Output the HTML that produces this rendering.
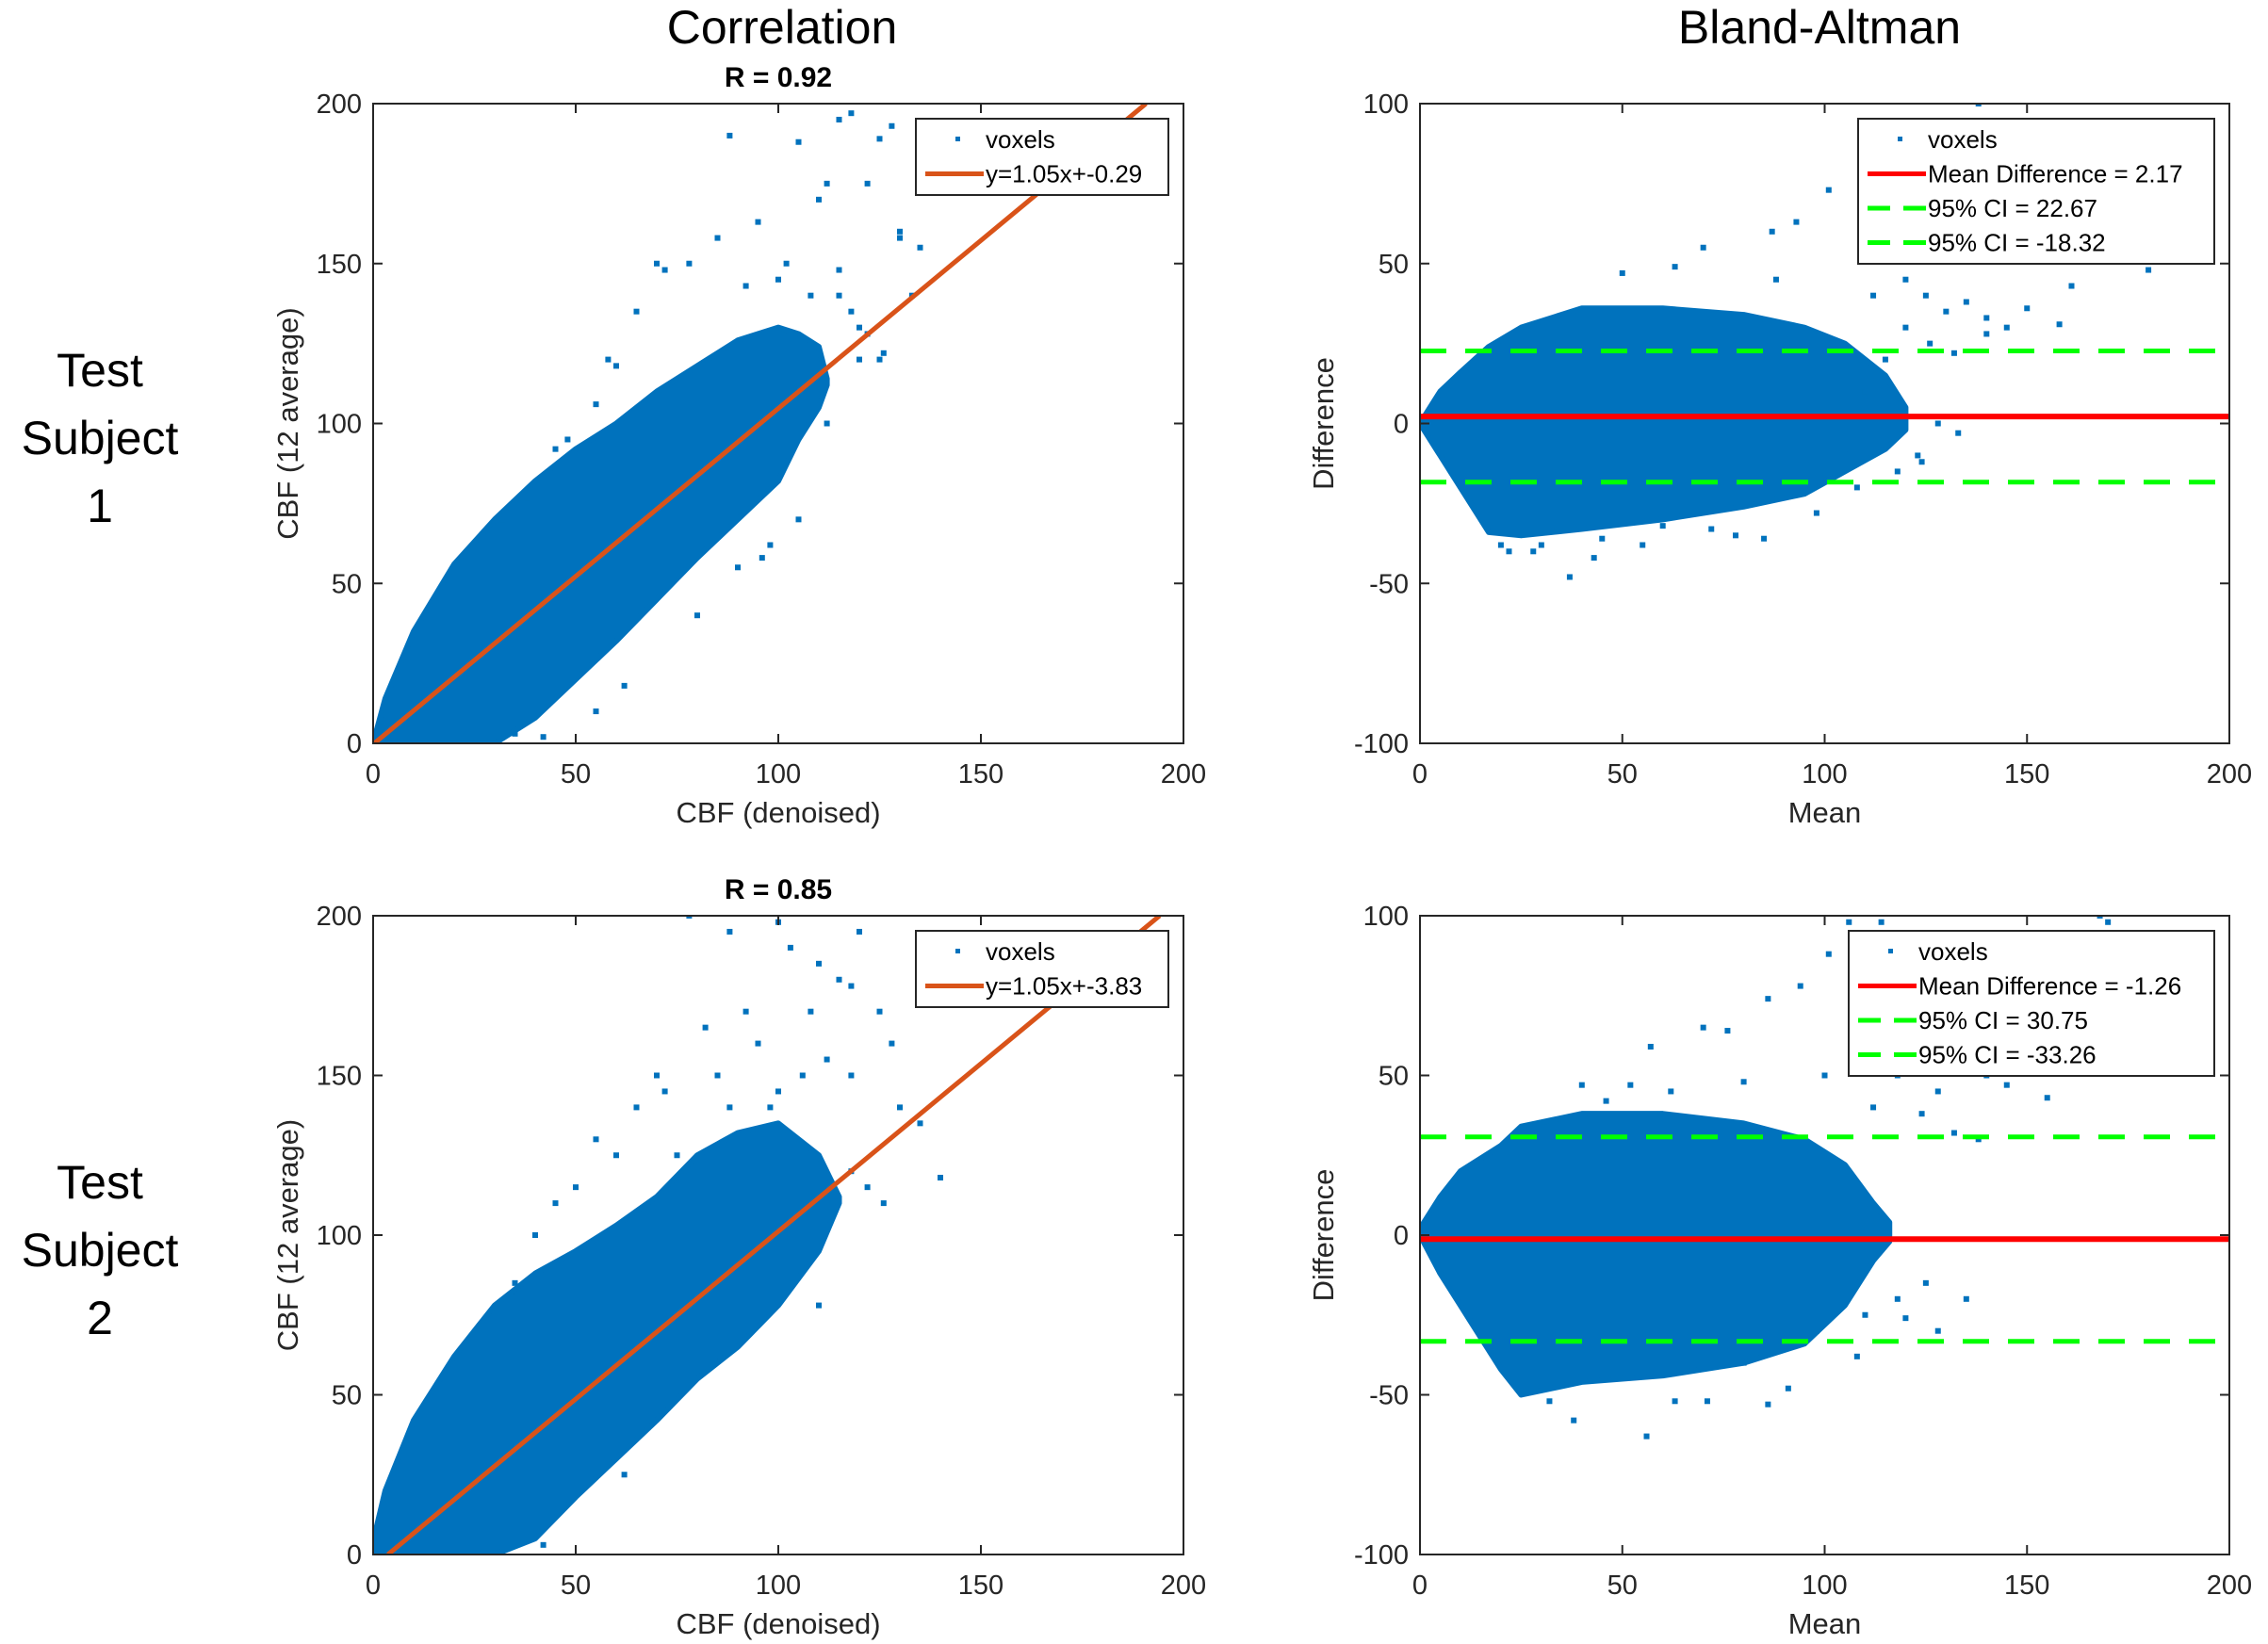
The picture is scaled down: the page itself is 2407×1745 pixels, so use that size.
<!DOCTYPE html>
<html><head><meta charset="utf-8"><style>
html,body{margin:0;padding:0;background:#fff;}
svg{display:block;font-family:"Liberation Sans",sans-serif;}
</style></head><body>
<svg id="fig" width="2407" height="1745" viewBox="0 0 2407 1745" xmlns="http://www.w3.org/2000/svg">
<text x="830" y="46" font-size="50" text-anchor="middle">Correlation</text>
<text x="1931" y="46" font-size="50" text-anchor="middle">Bland-Altman</text>
<g font-size="50" text-anchor="middle">
<text x="106" y="410">Test</text><text x="106" y="482">Subject</text><text x="106" y="554">1</text></g>
<g font-size="50" text-anchor="middle">
<text x="106" y="1272">Test</text><text x="106" y="1344">Subject</text><text x="106" y="1416">2</text></g>
</svg>
<script>
// ---- Data: correlation subject 1 ----
const c1EnvX  = [0,3,10,20,30,40,50,60,70,80,90,100,105,110,112];
const c1EnvLo = [0,0,0,0,0,8,20,32,45,58,70,82,95,105,112];
const c1EnvHi = [0,14,35,56,70,82,92,100,110,118,126,130,128,124,114];
const c1OutX = [88,105,115,118,125,128,130,122,110,112,95,100,115,130,135,120,108,102,78,70,65,60,55,45,38,32,120,125,133,92,85,72,58,48,40,118,122,126,115,112,105,98,35,28,42,55,62,80,90,96];
const c1OutY = [190,188,195,197,189,193,160,175,170,175,163,145,148,158,155,130,140,150,150,150,135,118,106,92,75,70,120,120,140,143,158,148,120,95,60,135,128,122,140,100,70,62,3,18,2,10,18,40,55,58];
const c1Slope = 1.05, c1Intercept = -0.29;
// ---- Data: correlation subject 2 ----
const c2EnvX  = [0,3,10,20,30,40,50,60,70,80,90,100,110,115];
const c2EnvLo = [0,0,0,0,0,5,18,30,42,55,65,78,95,110];
const c2EnvHi = [4,20,42,62,78,88,95,103,112,125,132,135,125,112];
const c2OutX = [78,88,100,103,110,115,118,120,125,128,95,85,72,65,60,50,45,40,35,108,118,130,135,140,92,82,70,55,48,112,100,106,98,88,75,122,126,118,62,42,30,110];
const c2OutY = [200,195,198,190,185,180,178,195,170,160,160,150,145,140,125,115,110,100,85,170,150,140,135,118,170,165,150,130,90,155,145,150,140,140,125,115,110,120,25,3,-0,78];
const c2Slope = 1.05, c2Intercept = -3.83;
// ---- Data: Bland-Altman subject 1 ----
const b1EnvX  = [0,5,10,17,25,40,60,80,95,105,115,120];
const b1EnvLo = [0,-10,-20,-34,-35,-33,-30,-26,-22,-15,-8,-2];
const b1EnvHi = [0,10,16,24,30,36,36,34,30,25,15,5];
const b1OutX = [138,101,93,87,70,63,50,37,43,28,22,120,125,130,135,140,145,150,158,161,180,115,110,105,118,123,128,133,85,78,60,112,120,126,132,20,30,45,55,72,98,108,124,140,88];
const b1OutY = [100,73,63,60,55,49,47,-48,-42,-40,-40,45,40,35,38,33,30,36,31,43,48,20,10,-8,-15,-10,0,-3,-36,-35,-32,40,30,25,22,-38,-38,-36,-38,-33,-28,-20,-12,28,45];
const b1Mean = 2.17, b1CIHi = 22.67, b1CILo = -18.32;
// ---- Data: Bland-Altman subject 2 ----
const b2EnvX  = [0,5,10,20,25,40,60,80,95,105,112,116];
const b2EnvLo = [0,-12,-22,-42,-50,-46,-44,-40,-34,-22,-8,-2];
const b2EnvHi = [2,12,20,28,34,38,38,35,30,22,10,4];
const b2OutX = [106,114,168,170,101,94,86,76,70,57,52,40,32,38,56,63,71,86,91,118,128,140,145,155,110,120,128,135,98,80,112,124,132,138,46,62,80,100,108,118,125];
const b2OutY = [98,98,100,98,88,78,74,64,65,59,47,47,-52,-58,-63,-52,-52,-53,-48,50,45,50,47,43,-25,-26,-30,-20,-30,-40,40,38,32,30,42,45,48,50,-38,-20,-15];
const b2Mean = -1.26, b2CIHi = 30.75, b2CILo = -33.26;

const NS = 'http://www.w3.org/2000/svg';
const svg = document.getElementById('fig');
function mk(tag, attrs, parent){ const e=document.createElementNS(NS,tag); for(const k in attrs) e.setAttribute(k,attrs[k]); (parent||svg).appendChild(e); return e; }

function panel(p){
  const L=p.left, R=p.right, T=p.top, B=p.bottom;
  const sx = v => L + (v - p.xmin)/(p.xmax-p.xmin)*(R-L);
  const sy = v => B - (v - p.ymin)/(p.ymax-p.ymin)*(B-T);
  const g = mk('g',{});
  
  
  const defs = mk('defs',{},g);
  const cp = mk('clipPath',{id:p.name+'-clip'},defs);
  mk('rect',{x:L,y:T,width:R-L,height:B-T},cp);
  const plot = mk('g',{'clip-path':'url(#'+p.name+'-clip)'},g);
  let pts=[];
  p.envX.forEach((x,i)=>pts.push(sx(x)+','+sy(p.envHi[i])));
  for(let i=p.envX.length-1;i>=0;i--) pts.push(sx(p.envX[i])+','+sy(p.envLo[i]));
  const env = mk('polygon',{points:pts.join(' '),fill:'#0072BD','stroke':'#0072BD','stroke-width':6,'stroke-linejoin':'round'},plot);
  
  
  p.outX.forEach((x,i)=>{
    const r = mk('rect',{x:sx(x)-3,y:sy(p.outY[i])-3,width:6,height:6,fill:'#0072BD'},plot);
    
    
  });
  if(p.slope!==undefined){
    const x0 = Math.max(0,-p.intercept/p.slope), x1=(200-p.intercept)/p.slope;
    const ln = mk('line',{x1:sx(x0),y1:sy(p.slope*x0+p.intercept),x2:sx(x1),y2:sy(p.slope*x1+p.intercept),stroke:'#D95319','stroke-width':5},plot);
    
    
  } else {
    const m = mk('line',{x1:L,x2:R,y1:sy(p.mean),y2:sy(p.mean),stroke:'#FF0000','stroke-width':6},plot);
    
    
    [p.ciHi,p.ciLo].forEach(v=>{
      const c = mk('line',{x1:L,x2:R,y1:sy(v),y2:sy(v),stroke:'#00FF00','stroke-width':5,'stroke-dasharray':'28 20'},plot);
      
      
    });
  }
  mk('rect',{x:L,y:T,width:R-L,height:B-T,fill:'none',stroke:'#262626','stroke-width':2},g);
  p.xticks.forEach(v=>{
    mk('line',{x1:sx(v),x2:sx(v),y1:B,y2:B-10,stroke:'#262626','stroke-width':2},g);
    mk('line',{x1:sx(v),x2:sx(v),y1:T,y2:T+10,stroke:'#262626','stroke-width':2},g);
    const t = mk('text',{x:sx(v),y:B+42,'font-size':29,'text-anchor':'middle',fill:'#262626'},g);
    t.textContent=v;
    
    
  });
  p.yticks.forEach(v=>{
    mk('line',{x1:L,x2:L+10,y1:sy(v),y2:sy(v),stroke:'#262626','stroke-width':2},g);
    mk('line',{x1:R,x2:R-10,y1:sy(v),y2:sy(v),stroke:'#262626','stroke-width':2},g);
    const t = mk('text',{x:L-12,y:sy(v)+10,'font-size':29,'text-anchor':'end',fill:'#262626'},g);
    t.textContent=v;
    
    
  });
  const xl = mk('text',{x:(L+R)/2,y:B+84,'font-size':31,'text-anchor':'middle',fill:'#262626'},g);
  xl.textContent=p.xlabel;
  
  
  const yx=p.ylabelX, yy=(T+B)/2;
  const yl = mk('text',{x:yx,y:yy,'font-size':31,'text-anchor':'middle',fill:'#262626',transform:'rotate(-90 '+yx+' '+yy+')'},g);
  yl.textContent=p.ylabel;
  
  
  if(p.title){
    const tt = mk('text',{x:(L+R)/2,y:T-18,'font-size':30,'font-weight':'bold','text-anchor':'middle',fill:'#000'},g);
    tt.textContent=p.title;
    
    
  }
  const lg = mk('g',{},g);
  
  
  const lx=p.legX, ly=T+16, rowH=36.5;
  mk('rect',{x:lx,y:ly,width:p.legW,height:p.legItems.length*rowH+8,fill:'#fff',stroke:'#262626','stroke-width':2},lg);
  p.legItems.forEach((it,i)=>{
    const cy = ly+22+i*rowH;
    if(it.type==='pt') mk('rect',{x:lx+42,y:cy-3,width:5,height:5,fill:'#0072BD'},lg);
    else mk('line',{x1:lx+10,x2:lx+72,y1:cy,y2:cy,stroke:it.color,'stroke-width':5,'stroke-dasharray':it.dash||'none'},lg);
    const t = mk('text',{x:lx+74,y:cy+9,'font-size':26,fill:'#000'},lg);
    t.textContent=it.label;
    
    
  });
}
const ticks200=[0,50,100,150,200], ticksBA=[-100,-50,0,50,100];
const T1=110, B1=789, T2=972, B2=1650, CL=396, CR=1256, BL=1507, BR=2366;
panel({name:'correlation-subject-1',left:CL,right:CR,top:T1,bottom:B1,xmin:0,xmax:200,ymin:0,ymax:200,xticks:ticks200,yticks:ticks200,
  envX:c1EnvX,envLo:c1EnvLo,envHi:c1EnvHi,outX:c1OutX,outY:c1OutY,slope:c1Slope,intercept:c1Intercept,
  xlabel:'CBF (denoised)',ylabel:'CBF (12 average)',ylabelX:316,title:'R = 0.92',legX:972,legW:268,
  legItems:[{type:'pt',label:'voxels'},{type:'line',color:'#D95319',label:'y=1.05x+-0.29'}]});
panel({name:'correlation-subject-2',left:CL,right:CR,top:T2,bottom:B2,xmin:0,xmax:200,ymin:0,ymax:200,xticks:ticks200,yticks:ticks200,
  envX:c2EnvX,envLo:c2EnvLo,envHi:c2EnvHi,outX:c2OutX,outY:c2OutY,slope:c2Slope,intercept:c2Intercept,
  xlabel:'CBF (denoised)',ylabel:'CBF (12 average)',ylabelX:316,title:'R = 0.85',legX:972,legW:268,
  legItems:[{type:'pt',label:'voxels'},{type:'line',color:'#D95319',label:'y=1.05x+-3.83'}]});
panel({name:'bland-altman-subject-1',left:BL,right:BR,top:T1,bottom:B1,xmin:0,xmax:200,ymin:-100,ymax:100,xticks:ticks200,yticks:ticksBA,
  envX:b1EnvX,envLo:b1EnvLo,envHi:b1EnvHi,outX:b1OutX,outY:b1OutY,mean:b1Mean,ciHi:b1CIHi,ciLo:b1CILo,
  xlabel:'Mean',ylabel:'Difference',ylabelX:1415,legX:1972,legW:378,
  legItems:[{type:'pt',label:'voxels'},{type:'line',color:'#FF0000',label:'Mean Difference = '+b1Mean},
    {type:'line',color:'#00FF00',dash:'24 14',label:'95% CI = '+b1CIHi},{type:'line',color:'#00FF00',dash:'24 14',label:'95% CI = '+b1CILo}]});
panel({name:'bland-altman-subject-2',left:BL,right:BR,top:T2,bottom:B2,xmin:0,xmax:200,ymin:-100,ymax:100,xticks:ticks200,yticks:ticksBA,
  envX:b2EnvX,envLo:b2EnvLo,envHi:b2EnvHi,outX:b2OutX,outY:b2OutY,mean:b2Mean,ciHi:b2CIHi,ciLo:b2CILo,
  xlabel:'Mean',ylabel:'Difference',ylabelX:1415,legX:1962,legW:388,
  legItems:[{type:'pt',label:'voxels'},{type:'line',color:'#FF0000',label:'Mean Difference = '+b2Mean},
    {type:'line',color:'#00FF00',dash:'24 14',label:'95% CI = '+b2CIHi},{type:'line',color:'#00FF00',dash:'24 14',label:'95% CI = '+b2CILo}]});
</script>
</body></html>
